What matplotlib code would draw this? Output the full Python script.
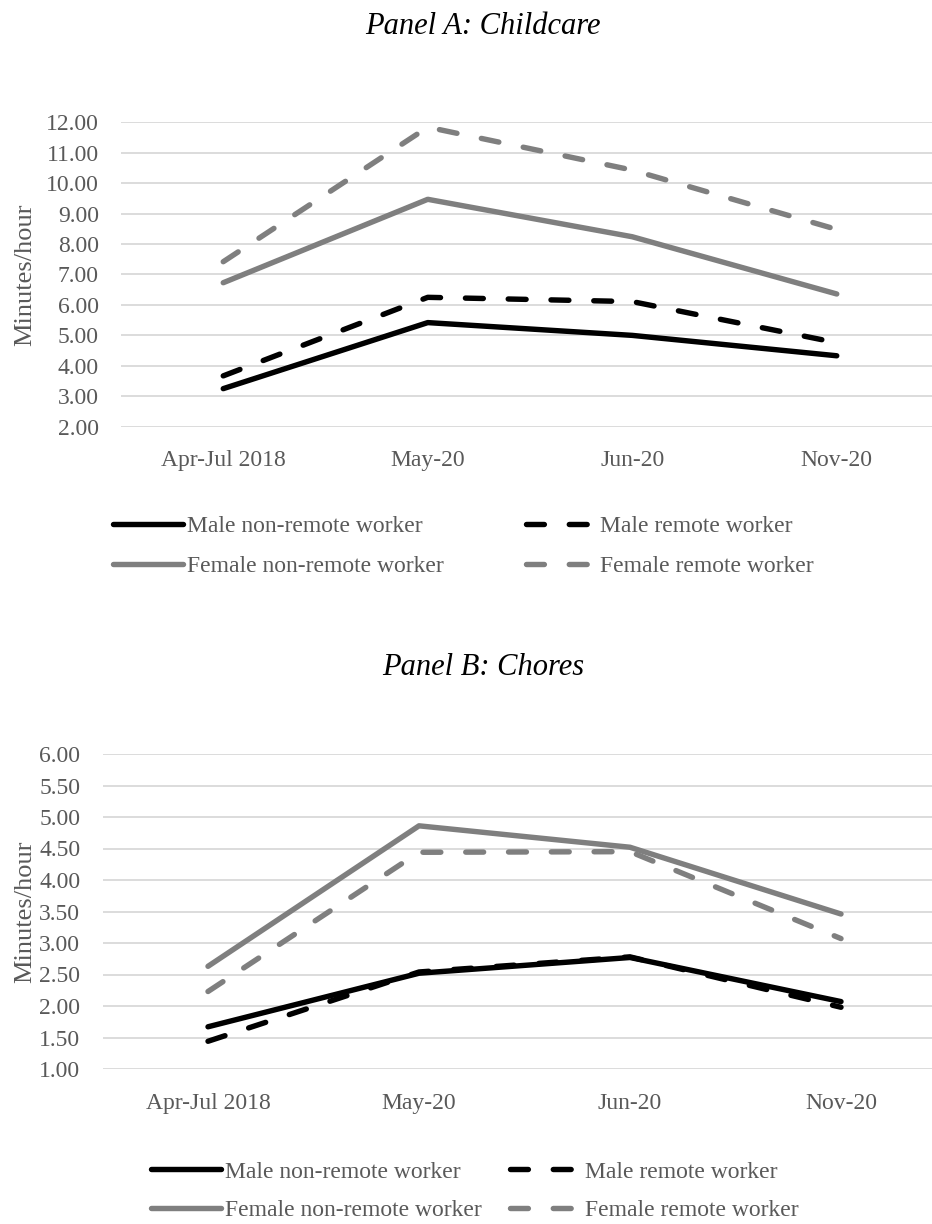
import matplotlib
matplotlib.use("Agg")
import matplotlib.pyplot as plt

plt.rcParams['font.family'] = ['Liberation Serif', 'DejaVu Serif']

# data
periods = ["Apr-Jul 2018", "May-20", "Jun-20", "Nov-20"]
series_names = ["Male non-remote worker", "Male remote worker",
                "Female non-remote worker", "Female remote worker"]

childcare_male_nonremote = [3.25, 5.42, 5.00, 4.33]
childcare_male_remote = [3.67, 6.25, 6.11, 4.76]
childcare_female_nonremote = [6.73, 9.47, 8.24, 6.36]
childcare_female_remote = [7.42, 11.84, 10.43, 8.48]

chores_male_nonremote = [1.67, 2.52, 2.77, 2.07]
chores_male_remote = [1.44, 2.54, 2.78, 1.98]
chores_female_nonremote = [2.63, 4.86, 4.52, 3.46]
chores_female_remote = [2.23, 4.44, 4.45, 3.07]

childcare_ticks = [2, 3, 4, 5, 6, 7, 8, 9, 10, 11, 12]
chores_ticks = [1.0, 1.5, 2.0, 2.5, 3.0, 3.5, 4.0, 4.5, 5.0, 5.5, 6.0]

BLACK = "#000000"
GRAY = "#7f7f7f"
TXT = "#595959"
GRID = "#d9d9d9"
LW = 3.9
styles = [
    dict(color=BLACK, ls="-"),
    dict(color=BLACK, ls=(0, (3.3, 4.6))),
    dict(color=GRAY, ls="-"),
    dict(color=GRAY, ls=(0, (3.3, 4.6))),
]

W, H = 932, 1224
fig = plt.figure(figsize=(W / 100, H / 100), dpi=100)


def panel(left_px, top_px, bottom_px, unit_px, series, ticks, title, title_y,
          leg_x, leg_y, colsp, labsp):
    ax = fig.add_axes([left_px / W, 1 - bottom_px / H, (W - left_px) / W, (bottom_px - top_px) / H])
    x = list(range(len(periods)))
    handles = []
    for vals, st, name in zip(series, styles, series_names):
        ln, = ax.plot(x, vals, color=st["color"], linestyle=st["ls"], lw=LW,
                      solid_capstyle="round", dash_capstyle="round", label=name)
        handles.append(ln)
    ax.set_xlim(-0.5, -0.5 + (W - left_px) / unit_px)
    ax.set_ylim(ticks[0], ticks[-1])
    ax.set_yticks(ticks)
    ax.set_yticklabels([f"{t:.2f}" for t in ticks])
    ax.set_xticks(x)
    ax.set_xticklabels(periods)
    ax.tick_params(length=0, labelsize=17, labelcolor=TXT)
    ax.tick_params(axis="y", pad=16)
    ax.tick_params(axis="x", pad=17)
    ax.grid(axis="y", color=GRID, lw=1.3)
    ax.set_axisbelow(True)
    for s in ax.spines.values():
        s.set_visible(False)
    ax.set_ylabel("Minutes/hour", fontsize=19, color=TXT)
    ax.yaxis.set_label_coords(-(left_px - 36) / (W - left_px), 0.5)
    fig.text(483 / W, 1 - title_y / H, title, ha="center", va="center",
             fontsize=22, style="italic")
    # legend is filled row by row in the reference
    order = [0, 2, 1, 3]
    fig.legend(handles=[handles[i] for i in order], loc="center left",
               bbox_to_anchor=(leg_x / W, 1 - leg_y / H), ncol=2, frameon=False,
               fontsize=17, handlelength=2.95, handletextpad=0.2,
               columnspacing=colsp, labelspacing=labsp, borderpad=0,
               borderaxespad=0, labelcolor=TXT)
    return ax


panel(121, 122.3, 426.7, 204.5,
      [childcare_male_nonremote, childcare_male_remote,
       childcare_female_nonremote, childcare_female_remote],
      childcare_ticks, "Panel A: Childcare", 27, 113, 546.5, 3.45, 0.8)

panel(102.5, 754, 1069, 211,
      [chores_male_nonremote, chores_male_remote,
       chores_female_nonremote, chores_female_remote],
      chores_ticks, "Panel B: Chores", 668, 151, 1191, 1.2, 0.72)

fig.savefig("out.png", dpi=100)
